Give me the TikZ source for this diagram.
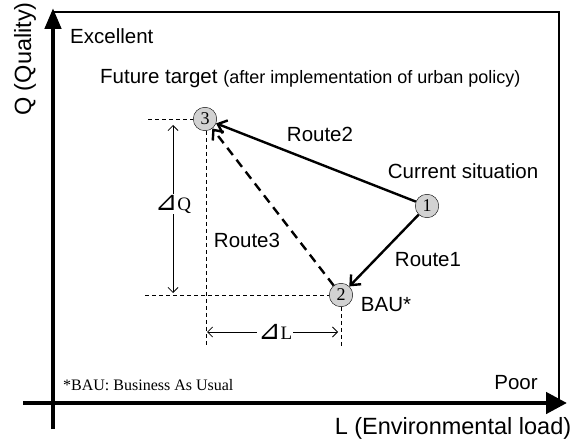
\documentclass[tikz,border=0pt]{standalone}
\usepackage{fontspec}
\setmainfont{Liberation Sans}
\newfontfamily\serifrm{Liberation Serif}
\newfontfamily\symrm{DejaVu Sans}
\usetikzlibrary{arrows.meta, positioning, calc}
\newcommand{\rtri}{{\symrm\fontsize{27}{27}\selectfont\char"22BF}}

\begin{document}
\begin{tikzpicture}[x=1pt,y=-1pt,
  lb/.style={font=\fontsize{20.5}{24}\selectfont,inner sep=0pt},
  axl/.style={font=\fontsize{23.5}{26}\selectfont,inner sep=0pt},
  pt/.style={circle,draw,thin,fill=gray!35,minimum size=23.5pt,inner sep=0pt,
             font=\serifrm\fontsize{18}{18}\selectfont},
  ax/.style={line width=4.6pt,-{Triangle[length=21pt,width=16pt]}},
  rt/.style={line width=2.4pt,-{Straight Barb[length=8pt,width=14pt]}},
  gd/.style={thin,dash pattern=on 4pt off 3pt},
  dm/.style={thick,{Straight Barb[length=5pt,width=10pt]}-{Straight Barb[length=5pt,width=10pt]}},
  dl/.style={fill=white,inner sep=1pt,font=\serifrm\fontsize{19}{19}\selectfont},
  >=Stealth
]
\useasboundingbox (0,0) rectangle (573,441);

% frame
\coordinate (TL) at (53,12);
\coordinate (TR) at (559,12);
\coordinate (BR) at (559,403);
\draw[line width=1.6pt] (TL) -- (TR) -- (BR);

% axes
\coordinate (Y0) at (53,429);
\coordinate (Y1) at (53,8);
\coordinate (X0) at (23,403);
\coordinate (X1) at (567,403);
\draw[ax] (Y0) -- (Y1);
\draw[ax,-{Triangle[length=21pt,width=21pt]}] (X0) -- (X1);

% axis labels
\node[axl,rotate=90] (QQ) at (25,59) {Q (Quality)};
\node[lb,anchor=west] (EX) at (70,36) {Excellent};
\node[lb] (PR) at (516,383) {Poor};
\node[axl] (LL) at (453,428) {L (Environmental load)};

% states
\node[pt] (S3) at (205,119) {3};
\node[pt] (S1) at (427,206) {1};
\node[pt] (S2) at (341,295) {2};

\node[lb,anchor=west] (FT) at (100,79)
      {Future target {\fontsize{18}{22}\selectfont(after implementation of urban policy)}};
\node[lb] (CS) at (463,171) {Current situation};
\node[lb] (BA) at (386,305) {BAU*};

% routes
\draw[rt] (S1) -- (S3);
\node[lb] (R2) at (320,134) {Route2};
\draw[rt] (S1) -- (S2);
\node[lb] (R1) at (428,260) {Route1};
\draw[rt,dash pattern=on 9pt off 6pt] (S2) -- (S3);
\node[lb] (R3) at (247,240) {Route3};

% guide lines
\coordinate (G3) at (148,119);
\coordinate (G2) at (145,295);
\coordinate (V3) at (206,347);
\coordinate (V2) at (341,348);
\draw[gd] (G3) -- (S3.west);
\draw[gd] (G2) -- (S2.west);
\draw[gd] (S3.south -| V3) -- (V3);
\draw[gd] (S2.south) -- (V2);

% differences
\coordinate (DQa) at (173,125);
\coordinate (DQb) at (173,293);
\coordinate (DLa) at (207,332);
\coordinate (DLb) at (338,332);
\draw[dm] (DQa) -- (DQb) node[dl,pos=0.47] (DQ) {\rtri Q};
\draw[dm] (DLa) -- (DLb) node[dl,pos=0.52] (DL) {\rtri L};

% note
\node[anchor=west,inner sep=0pt,font=\serifrm\fontsize{16}{18}\selectfont] (NT) at (63,385)
      {*BAU: Business As Usual};
\end{tikzpicture}
\end{document}
